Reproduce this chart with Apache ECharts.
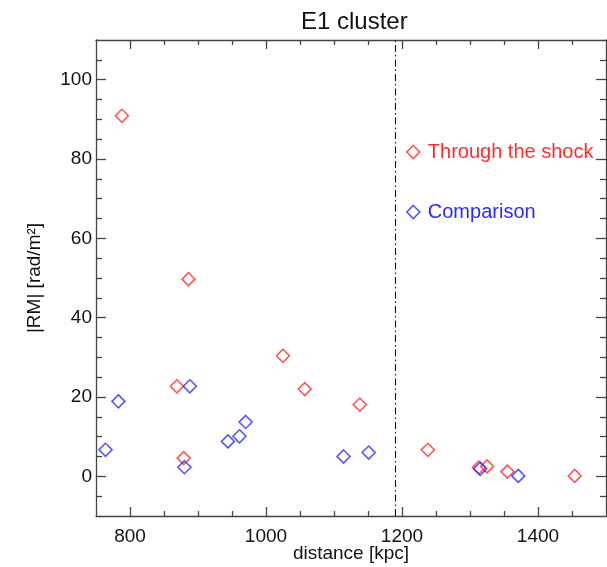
<!DOCTYPE html>
<html>
<head>
<meta charset="utf-8">
<script src="https://cdn.jsdelivr.net/npm/echarts@6/dist/echarts.min.js"></script>
<style>
  html, body { margin: 0; padding: 0; background: #fff; }
  #chart { width: 607px; height: 567px; }
</style>
</head>
<body>
<div id="chart"></div>
<script>
// Rotation measures of sources seen through the shock vs. comparison sources
const shockDist = [788, 869, 879, 886, 1025, 1057, 1138, 1238, 1313, 1325, 1355, 1454];
const shockRM   = [90.9, 22.7, 4.6, 49.7, 30.4, 22.0, 18.1, 6.7, 2.2, 2.5, 1.2, 0.1];
const compDist  = [764, 783, 880, 888, 944, 961, 970, 1114, 1151, 1315, 1371];
const compRM    = [6.7, 18.9, 2.3, 22.7, 8.8, 10.1, 13.7, 5.0, 6.0, 1.9, 0.1];

// Shock position
const shockPosition = 1190;

// Axis ranges and tick values
const xRange = [750, 1500];
const yRange = [-10, 110];
const xMajorTicks = [800, 1000, 1200, 1400];
const xMinorTicks = [850, 900, 950, 1050, 1100, 1150, 1250, 1300, 1350, 1450];
const yMajorTicks = [0, 20, 40, 60, 80, 100];
const yMinorTicks = [-5, 5, 10, 15, 25, 30, 35, 45, 50, 55, 65, 70, 75, 85, 90, 95, 105];

const seriesNames = ['Through the shock', 'Comparison'];
const RED = '#ff2b2b';
const BLUE = '#2a2aff';
const FONT = 'Liberation Sans, Arial, Helvetica, sans-serif';
const AXIS = '#444';

function zip(xs, ys) { return xs.map((x, i) => [x, ys[i]]); }
const plain = v => String(v);

function xAxisDef(position, ticks, major, withLabels) {
  return {
    type: 'value', position, min: xRange[0], max: xRange[1],
    splitLine: { show: false },
    axisLine: { show: major, onZero: false, lineStyle: { color: AXIS, width: 1.3 } },
    axisTick: { show: true, inside: true, length: major ? 9 : 5, customValues: ticks,
                lineStyle: { color: AXIS, width: 1.3 } },
    axisLabel: withLabels
      ? { show: true, customValues: ticks, formatter: plain, color: '#111',
          fontFamily: FONT, fontSize: 19, margin: 11 }
      : { show: false },
    name: withLabels ? 'distance [kpc]' : '',
    nameLocation: 'middle', nameGap: 28, nameMoveOverlap: false,
    nameTextStyle: { color: '#111', fontFamily: FONT, fontSize: 19 }
  };
}

function yAxisDef(position, ticks, major, withLabels) {
  return {
    type: 'value', position, min: yRange[0], max: yRange[1],
    splitLine: { show: false },
    axisLine: { show: major, onZero: false, lineStyle: { color: AXIS, width: 1.3 } },
    axisTick: { show: true, inside: true, length: major ? 10 : 6, customValues: ticks,
                lineStyle: { color: AXIS, width: 1.3 } },
    axisLabel: withLabels
      ? { show: true, customValues: ticks, formatter: plain, color: '#111',
          fontFamily: FONT, fontSize: 19, margin: 4 }
      : { show: false },
    name: withLabels ? '|RM| [rad/m²]' : '',
    nameLocation: 'middle', nameGap: 52, nameRotate: 90, nameMoveOverlap: false,
    nameTextStyle: { color: '#111', fontFamily: FONT, fontSize: 19 }
  };
}

function legendDef(name, color, top) {
  return {
    show: true, orient: 'vertical', left: 401, top,
    itemWidth: 13, itemHeight: 13,
    data: [{ name, icon: 'diamond',
             itemStyle: { color: 'rgba(0,0,0,0)', borderColor: color, borderWidth: 1.6 },
             textStyle: { color } }],
    textStyle: { fontFamily: FONT, fontSize: 20, padding: [0, 0, 0, 3] }
  };
}

const chart = echarts.init(document.getElementById('chart'), null, { renderer: 'canvas' });

chart.setOption({
  animation: false,
  backgroundColor: '#fff',
  title: {
    text: 'E1 cluster', left: 296, top: 5,
    textStyle: { fontFamily: FONT, fontSize: 24, fontWeight: 'normal', color: '#111' }
  },
  grid: { left: 96, right: 1, top: 40, bottom: 51, containLabel: false, outerBoundsMode: 'none' },
  legend: [
    legendDef(seriesNames[0], RED, 137),
    legendDef(seriesNames[1], BLUE, 197)
  ],
  xAxis: [
    xAxisDef('bottom', xMajorTicks, true, true),
    xAxisDef('bottom', xMinorTicks, false, false),
    xAxisDef('top', xMajorTicks, true, false),
    xAxisDef('top', xMinorTicks, false, false)
  ],
  yAxis: [
    yAxisDef('left', yMajorTicks, true, true),
    yAxisDef('left', yMinorTicks, false, false),
    yAxisDef('right', yMajorTicks, true, false),
    yAxisDef('right', yMinorTicks, false, false)
  ],
  series: [
    {
      name: seriesNames[0], type: 'scatter', xAxisIndex: 0, yAxisIndex: 0,
      data: zip(shockDist, shockRM),
      symbol: 'diamond', symbolSize: 13,
      itemStyle: { color: 'rgba(0,0,0,0)', borderColor: RED, borderWidth: 1.6 },
      markLine: {
        silent: true, symbol: 'none', label: { show: false },
        lineStyle: { color: '#111', width: 1.1, type: [7, 3, 1.5, 3] },
        data: [{ xAxis: shockPosition }]
      }
    },
    {
      name: seriesNames[1], type: 'scatter', xAxisIndex: 0, yAxisIndex: 0,
      data: zip(compDist, compRM),
      symbol: 'diamond', symbolSize: 13,
      itemStyle: { color: 'rgba(0,0,0,0)', borderColor: BLUE, borderWidth: 1.6 }
    }
  ]
});
</script>
</body>
</html>
